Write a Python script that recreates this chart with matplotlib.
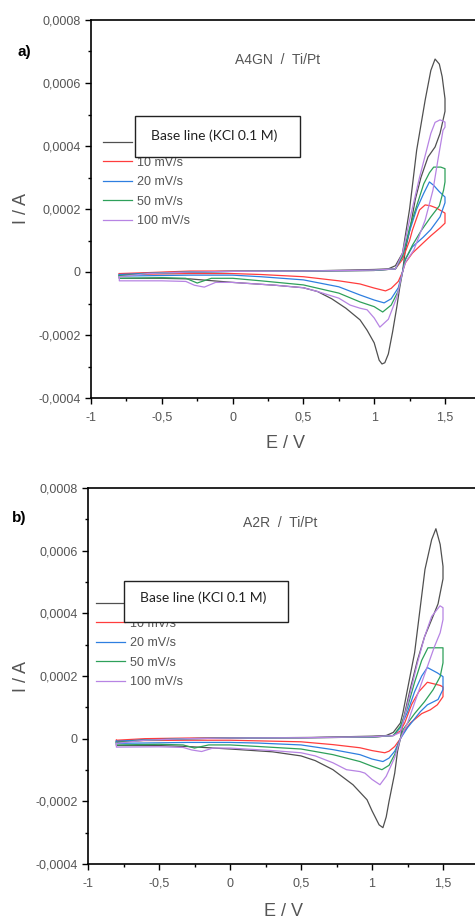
import matplotlib
matplotlib.use("Agg")
import matplotlib.pyplot as plt
from matplotlib.ticker import MultipleLocator, FuncFormatter
from matplotlib.patches import Rectangle
import numpy as np

plt.rcParams['font.family'] = ['Liberation Sans', 'DejaVu Sans']

# ---- data, currents in units of 1e-4 A ----
# panel a) A4GN / Ti/Pt
a_base_E = [-0.8, -0.6, -0.3, 0.0, 0.3, 0.6, 0.8, 1.0, 1.1, 1.15, 1.2, 1.25, 1.30, 1.36, 1.40, 1.43, 1.46, 1.48, 1.5, 1.5,
            1.465, 1.43, 1.38, 1.33, 1.29, 1.25, 1.22, 1.20, 1.18, 1.16, 1.13, 1.1, 1.075, 1.055, 1.035, 1.0, 0.95, 0.9,
            0.8, 0.7, 0.6, 0.5, 0.3, 0.0, -0.3, -0.5, -0.8, -0.8]
a_base_I = [-0.1, -0.03, 0.0, 0.02, 0.03, 0.04, 0.06, 0.08, 0.1, 0.2, 0.6, 2.0, 3.87, 5.46, 6.4, 6.76, 6.6, 6.2, 5.5, 5.1,
            4.4, 3.97, 3.65, 3.0, 2.3, 1.3, 0.7, 0.0, -0.5, -1.1, -1.9, -2.6, -2.88, -2.92, -2.8, -2.25, -1.85, -1.52,
            -1.15, -0.85, -0.62, -0.5, -0.42, -0.33, -0.22, -0.2, -0.2, -0.1]
a_10_E = [-0.8, -0.6, -0.3, 0.0, 0.5, 1.0, 1.15, 1.2, 1.25, 1.27, 1.32, 1.36, 1.40, 1.44, 1.5, 1.5,
          1.465, 1.40, 1.345, 1.27, 1.22, 1.2, 1.17, 1.12, 1.08, 1.0, 0.9, 0.75, 0.5, 0.2, 0.0, -0.3, -0.8, -0.8]
a_10_I = [-0.05, -0.02, 0.03, 0.03, 0.03, 0.05, 0.1, 0.4, 1.0, 1.33, 1.97, 2.13, 2.1, 2.03, 1.87, 1.55,
          1.4, 1.15, 0.92, 0.6, 0.29, 0.0, -0.3, -0.52, -0.6, -0.51, -0.38, -0.28, -0.15, -0.08, -0.05, -0.05, -0.08, -0.05]
a_20_E = [-0.8, -0.6, -0.3, 0.0, 0.5, 1.0, 1.15, 1.2, 1.25, 1.3, 1.35, 1.39, 1.42, 1.46, 1.5, 1.5,
          1.465, 1.40, 1.345, 1.27, 1.22, 1.2, 1.17, 1.12, 1.07, 1.0, 0.9, 0.75, 0.5, 0.2, 0.0, -0.3, -0.8, -0.8]
a_20_I = [-0.08, -0.04, 0.0, 0.02, 0.03, 0.05, 0.1, 0.5, 1.3, 2.0, 2.5, 2.86, 2.75, 2.55, 2.38, 2.2,
          1.75, 1.35, 1.1, 0.8, 0.4, 0.0, -0.5, -0.85, -0.98, -0.89, -0.73, -0.47, -0.25, -0.15, -0.1, -0.1, -0.13, -0.08]
a_50_E = [-0.8, -0.6, -0.3, 0.0, 0.5, 1.0, 1.15, 1.2, 1.25, 1.3, 1.35, 1.39, 1.42, 1.47, 1.5, 1.5,
          1.49, 1.46, 1.40, 1.33, 1.27, 1.22, 1.2, 1.17, 1.12, 1.06, 1.0, 0.9, 0.75, 0.5, 0.2, 0.0, -0.15, -0.25,
          -0.33, -0.5, -0.8, -0.8]
a_50_I = [-0.12, -0.05, 0.0, 0.02, 0.03, 0.05, 0.1, 0.5, 1.4, 2.1, 2.8, 3.15, 3.33, 3.33, 3.28, 2.86,
          2.6, 2.1, 1.75, 1.3, 0.85, 0.4, 0.0, -0.6, -1.05, -1.27, -1.1, -0.95, -0.67, -0.41, -0.28, -0.2, -0.2, -0.35,
          -0.2, -0.18, -0.2, -0.12]
a_100_E = [-0.8, -0.6, -0.3, 0.0, 0.5, 1.0, 1.15, 1.2, 1.25, 1.32, 1.37, 1.40, 1.43, 1.465, 1.5, 1.5,
           1.486, 1.45, 1.415, 1.36, 1.28, 1.22, 1.2, 1.16, 1.1, 1.04, 1.0, 0.95, 0.9, 0.83, 0.75, 0.6, 0.5, 0.3,
           0.0, -0.12, -0.2, -0.27, -0.33, -0.5, -0.8, -0.8]
a_100_I = [-0.15, -0.05, 0.0, 0.02, 0.03, 0.06, 0.1, 0.6, 1.65, 3.0, 3.87, 4.4, 4.75, 4.83, 4.76, 4.6,
           4.5, 3.56, 2.6, 1.65, 0.7, 0.3, 0.0, -0.8, -1.5, -1.75, -1.46, -1.2, -1.15, -1.05, -0.83, -0.62, -0.5, -0.42,
           -0.33, -0.33, -0.48, -0.42, -0.3, -0.28, -0.28, -0.15]

# panel b) A2R / Ti/Pt
b_base_E = [-0.8, -0.6, -0.3, 0.0, 0.3, 0.6, 0.8, 1.0, 1.1, 1.15, 1.2, 1.218, 1.30, 1.373, 1.42, 1.45, 1.48, 1.5, 1.5,
            1.465, 1.42, 1.37, 1.32, 1.27, 1.22, 1.20, 1.18, 1.16, 1.12, 1.1, 1.077, 1.05, 1.0, 0.965, 0.866, 0.725,
            0.6, 0.5, 0.3, 0.0, -0.3, -0.5, -0.8, -0.8]
b_base_I = [-0.1, -0.03, 0.0, 0.02, 0.03, 0.04, 0.06, 0.08, 0.1, 0.2, 0.5, 0.83, 2.74, 5.4, 6.35, 6.7, 6.2, 5.5, 5.1,
            4.3, 3.8, 3.25, 2.5, 1.6, 0.6, 0.0, -0.4, -1.1, -2.0, -2.5, -2.84, -2.75, -2.3, -1.95, -1.47, -0.99,
            -0.7, -0.55, -0.42, -0.33, -0.25, -0.22, -0.22, -0.1]
b_10_E = [-0.8, -0.6, -0.3, 0.0, 0.5, 1.0, 1.15, 1.2, 1.23, 1.28, 1.33, 1.39, 1.48, 1.5, 1.5,
          1.46, 1.41, 1.35, 1.27, 1.22, 1.2, 1.16, 1.12, 1.09, 1.0, 0.915, 0.725, 0.5, 0.2, 0.0, -0.3, -0.6, -0.8, -0.8]
b_10_I = [-0.05, 0.0, 0.02, 0.03, 0.03, 0.05, 0.1, 0.25, 0.5, 1.1, 1.5, 1.8, 1.7, 1.65, 1.34,
          1.08, 0.92, 0.8, 0.5, 0.2, 0.0, -0.25, -0.4, -0.45, -0.38, -0.29, -0.19, -0.1, -0.07, -0.05, -0.05, -0.06, -0.08, -0.05]
b_20_E = [-0.8, -0.6, -0.3, 0.0, 0.5, 1.0, 1.15, 1.2, 1.25, 1.3, 1.35, 1.39, 1.46, 1.5, 1.5,
          1.465, 1.39, 1.34, 1.25, 1.2, 1.16, 1.12, 1.077, 1.0, 0.915, 0.725, 0.5, 0.2, 0.0, -0.3, -0.8, -0.8]
b_20_I = [-0.08, -0.04, 0.0, 0.02, 0.03, 0.05, 0.1, 0.35, 0.85, 1.5, 2.0, 2.27, 2.1, 1.98, 1.57,
          1.25, 1.08, 0.86, 0.35, 0.0, -0.4, -0.62, -0.73, -0.65, -0.51, -0.35, -0.2, -0.14, -0.12, -0.12, -0.15, -0.08]
b_50_E = [-0.8, -0.6, -0.3, 0.0, 0.5, 1.0, 1.15, 1.2, 1.25, 1.3, 1.35, 1.394, 1.5, 1.5,
          1.48, 1.43, 1.37, 1.3, 1.22, 1.2, 1.16, 1.12, 1.07, 1.0, 0.915, 0.725, 0.5, 0.2, 0.0, -0.15, -0.25,
          -0.33, -0.5, -0.8, -0.8]
b_50_I = [-0.12, -0.05, 0.0, 0.02, 0.03, 0.05, 0.1, 0.4, 1.0, 1.8, 2.5, 2.9, 2.9, 2.42,
          1.98, 1.56, 1.18, 0.8, 0.3, 0.0, -0.5, -0.85, -0.99, -0.88, -0.73, -0.51, -0.33, -0.25, -0.2, -0.2, -0.3,
          -0.2, -0.18, -0.2, -0.12]
b_100_E = [-0.8, -0.6, -0.3, 0.0, 0.5, 1.0, 1.15, 1.2, 1.25, 1.32, 1.37, 1.42, 1.479, 1.5, 1.5,
           1.48, 1.44, 1.39, 1.34, 1.25, 1.2, 1.16, 1.1, 1.056, 1.0, 0.95, 0.915, 0.82, 0.725, 0.6, 0.5, 0.3,
           0.0, -0.12, -0.2, -0.27, -0.33, -0.5, -0.8, -0.8]
b_100_I = [-0.15, -0.05, 0.0, 0.02, 0.03, 0.06, 0.1, 0.2, 1.1, 2.42, 3.25, 3.9, 4.24, 4.18, 3.8,
           3.38, 2.94, 2.3, 1.66, 0.5, 0.0, -0.6, -1.2, -1.47, -1.3, -1.1, -1.05, -0.99, -0.77, -0.55, -0.45, -0.38,
           -0.3, -0.3, -0.41, -0.36, -0.28, -0.26, -0.27, -0.15]

# the base line label sits under the white box, so its legend text is left blank
labels = [' ', '10 mV/s', '20 mV/s', '50 mV/s', '100 mV/s']
colors = ['#505050', '#ff3d3d', '#2e7fe0', '#2ea05a', '#b784e3']

panels = [
    dict(curves=[(a_base_E, a_base_I), (a_10_E, a_10_I), (a_20_E, a_20_I), (a_50_E, a_50_I), (a_100_E, a_100_I)],
         rect=[91 / 475, 1 - 398 / 919, 389.4 / 475, 378 / 919], tag='a)', tag_xy=(17, 52),
         title='A4GN  /  Ti/Pt', title_xy=(278, 60), leg_anchor=(0.031, 0.69),
         box=(135, 116, 300, 157), box_text_xy=(214, 136), ylab_xy=(22, 208), xlab_xy=(285, 443)),
    dict(curves=[(b_base_E, b_base_I), (b_10_E, b_10_I), (b_20_E, b_20_I), (b_50_E, b_50_I), (b_100_E, b_100_I)],
         rect=[88 / 475, 1 - 864 / 919, 390.5 / 475, 376 / 919], tag='b)', tag_xy=(12, 518),
         title='A2R  /  Ti/Pt', title_xy=(280, 523), leg_anchor=(0.02, 0.707),
         box=(124, 581, 288, 622), box_text_xy=(203, 598), ylab_xy=(22, 677), xlab_xy=(283, 911)),
]

W, H = 475, 919
fig = plt.figure(figsize=(W / 100, H / 100), dpi=100)
fig.patch.set_facecolor('white')


def fx(px):
    return px / W


def fy(py):
    return 1 - py / H


def fmt_y(v, pos):
    if abs(v) < 1e-12:
        return '0'
    return f'{v:.4f}'.replace('.', ',')


def fmt_x(v, pos):
    if abs(v) < 1e-9:
        return '0'
    return f'{v:g}'.replace('.', ',')


for p in panels:
    ax = fig.add_axes(p['rect'])
    for (E, I), c, lab in zip(p['curves'], colors, labels):
        ax.plot(E, np.array(I) * 1e-4, color=c, lw=0.9, label=lab)
    ax.set_xlim(-1, 1.75)
    ax.set_ylim(-0.0004, 0.0008)
    ax.xaxis.set_major_locator(MultipleLocator(0.5))
    ax.xaxis.set_minor_locator(MultipleLocator(0.25))
    ax.yaxis.set_major_locator(MultipleLocator(0.0002))
    ax.yaxis.set_minor_locator(MultipleLocator(0.0001))
    ax.xaxis.set_major_formatter(FuncFormatter(fmt_x))
    ax.yaxis.set_major_formatter(FuncFormatter(fmt_y))
    ax.tick_params(which='major', direction='out', length=4, width=1, labelsize=9, labelcolor='#555555')
    ax.tick_params(which='minor', direction='out', length=2, width=1)
    ax.tick_params(axis='x', which='major', pad=6)
    ax.tick_params(top=False, right=False)
    for s in ax.spines.values():
        s.set_linewidth(1.2)
    leg = ax.legend(loc='upper left', bbox_to_anchor=p['leg_anchor'], frameon=False, fontsize=9,
                    borderpad=0, borderaxespad=0, handlelength=2.3, handletextpad=0.4, labelspacing=0.6)
    for t in leg.get_texts():
        t.set_color('#555555')

    # white box covering the base line entry
    x0, y0, x1, y1 = p['box']
    fig.patches.append(Rectangle((fx(x0), fy(y1)), fx(x1) - fx(x0), fy(y0) - fy(y1), transform=fig.transFigure,
                                 facecolor='white', edgecolor='#222222', lw=1.0, zorder=10))
    fig.text(fx(p['box_text_xy'][0]), fy(p['box_text_xy'][1]), 'Base line (KCl 0.1 M)', family='Lato',
             fontsize=10, color='#222222', ha='center', va='center', zorder=11)

    fig.text(fx(p['title_xy'][0]), fy(p['title_xy'][1]), p['title'], fontsize=10, color='#555555',
             ha='center', va='center')
    fig.text(fx(p['tag_xy'][0]), fy(p['tag_xy'][1]), p['tag'], fontsize=11, fontweight='bold',
             ha='left', va='center')
    fig.text(fx(p['ylab_xy'][0]), fy(p['ylab_xy'][1]), 'I / A', fontsize=13, color='#555555',
             rotation=90, ha='center', va='center')
    fig.text(fx(p['xlab_xy'][0]), fy(p['xlab_xy'][1]), 'E / V', fontsize=13, color='#555555',
             ha='center', va='center')

fig.savefig('out.png', dpi=100)
